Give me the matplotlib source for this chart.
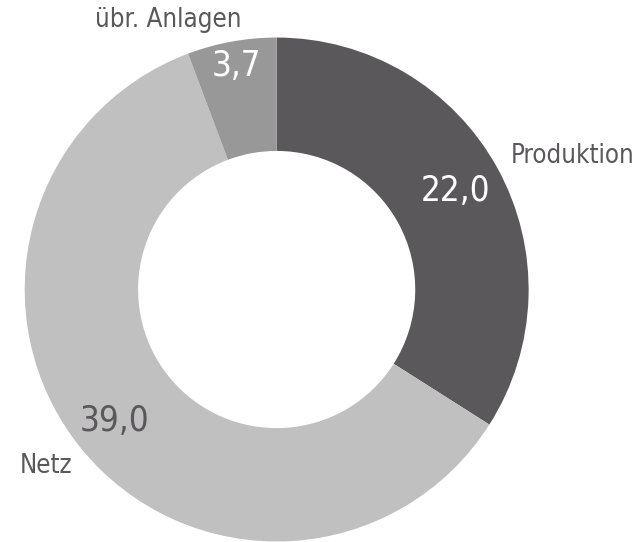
import numpy as np
import matplotlib
matplotlib.use('Agg')
import matplotlib.pyplot as plt

# Daten
kategorien = ['Produktion', 'Netz', 'übr. Anlagen']
werte = [22.0, 39.0, 3.7]
wert_texte = ['22,0', '39,0', '3,7']
farben = ['#5a585a', '#c0c0c0', '#989898']
wert_farben = ['white', '#5a585a', 'white']

# Position der Texte (Radius-Anteil) je Segment
wert_radius = [0.81, 0.83, 0.90]

fig = plt.figure(figsize=(6.41, 5.42), dpi=100)
ax = fig.add_axes([0, 0, 1, 1])

wedges, _ = ax.pie(werte, colors=farben, startangle=90, counterclock=False,
                   radius=1.0, wedgeprops=dict(width=0.45, linewidth=0))

schrift = dict(family='DejaVu Sans', stretch='condensed')

for w, txt, r, c in zip(wedges, wert_texte, wert_radius, wert_farben):
    mitte = np.deg2rad((w.theta1 + w.theta2) / 2)
    ax.text(r * np.cos(mitte), r * np.sin(mitte), txt, ha='center', va='center',
            fontsize=25, color=c, **schrift)

# Beschriftungen ausserhalb
ax.text(0.93, 0.53, kategorien[0], ha='left', va='center', fontsize=18.5, color='#5a585a', **schrift)
ax.text(-0.43, 1.07, kategorien[2], ha='center', va='center', fontsize=18.5, color='#5a585a', **schrift)
ax.text(-0.81, -0.70, kategorien[1], ha='right', va='center', fontsize=18.5, color='#5a585a', **schrift)

ax.set_xlim(-1.098, 1.446)
ax.set_ylim(-1.002, 1.149)
ax.set_aspect('auto')
ax.axis('off')

fig.savefig('out.png', dpi=100)
